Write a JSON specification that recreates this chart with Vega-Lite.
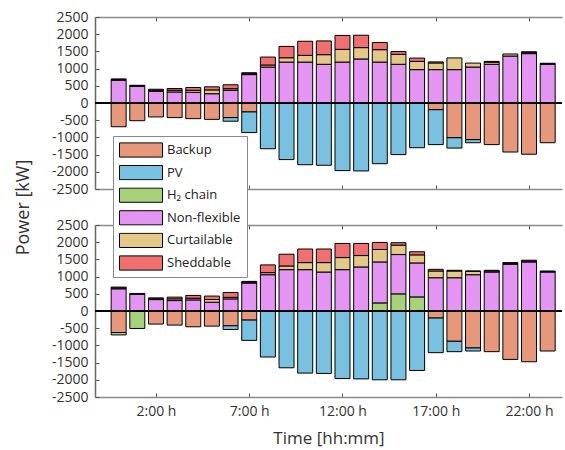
{
  "$schema": "https://vega.github.io/schema/vega-lite/v6.json",
  "background": "white",
  "padding": {"left": 14, "top": 10, "right": 0, "bottom": 2},
  "bounds": "flush",
  "spacing": 36,
  "config": {
    "font": "Open Sans",
    "view": {"stroke": null},
    "axis": {
      "grid": false,
      "labelFont": "Open Sans",
      "labelFontSize": 14,
      "labelColor": "#333333",
      "labelOverlap": false,
      "titleFont": "Open Sans",
      "titleFontSize": 17,
      "titleFontWeight": "normal",
      "titleColor": "#333333",
      "domainColor": "#8a8a8a",
      "domainWidth": 1.5,
      "tickColor": "#555555",
      "tickSize": -4,
      "tickWidth": 1
    },
    "axisY": {"labelOverlap": false, "labelFlush": false, "labelBound": false},
    "legend": {
      "labelFont": "Open Sans",
      "labelFontSize": 13,
      "labelColor": "#222222"
    }
  },
  "datasets": {
    "stackOrder": [
      {"source": "Backup", "rank": 1},
      {"source": "PV", "rank": 2},
      {"source": "H₂ chain", "rank": 3},
      {"source": "Non-flexible", "rank": 4},
      {"source": "Curtailable", "rank": 5},
      {"source": "Sheddable", "rank": 6}
    ],
    "withoutH2": [
      {"hour": 0, "source": "Backup", "kW": -690}, {"hour": 0, "source": "Non-flexible", "kW": 660}, {"hour": 0, "source": "Curtailable", "kW": 20}, {"hour": 0, "source": "Sheddable", "kW": 20},
      {"hour": 1, "source": "Backup", "kW": -515}, {"hour": 1, "source": "Non-flexible", "kW": 485}, {"hour": 1, "source": "Curtailable", "kW": 15}, {"hour": 1, "source": "Sheddable", "kW": 15},
      {"hour": 2, "source": "Backup", "kW": -405}, {"hour": 2, "source": "Non-flexible", "kW": 340}, {"hour": 2, "source": "Curtailable", "kW": 30}, {"hour": 2, "source": "Sheddable", "kW": 30},
      {"hour": 3, "source": "Backup", "kW": -425}, {"hour": 3, "source": "Non-flexible", "kW": 320}, {"hour": 3, "source": "Curtailable", "kW": 50}, {"hour": 3, "source": "Sheddable", "kW": 50},
      {"hour": 4, "source": "Backup", "kW": -455}, {"hour": 4, "source": "Non-flexible", "kW": 310}, {"hour": 4, "source": "Curtailable", "kW": 60}, {"hour": 4, "source": "Sheddable", "kW": 80},
      {"hour": 5, "source": "Backup", "kW": -475}, {"hour": 5, "source": "Non-flexible", "kW": 270}, {"hour": 5, "source": "Curtailable", "kW": 110}, {"hour": 5, "source": "Sheddable", "kW": 90},
      {"hour": 6, "source": "Backup", "kW": -425}, {"hour": 6, "source": "PV", "kW": -105}, {"hour": 6, "source": "Non-flexible", "kW": 370}, {"hour": 6, "source": "Curtailable", "kW": 45}, {"hour": 6, "source": "Sheddable", "kW": 115},
      {"hour": 7, "source": "Backup", "kW": -260}, {"hour": 7, "source": "PV", "kW": -600}, {"hour": 7, "source": "Non-flexible", "kW": 825}, {"hour": 7, "source": "Curtailable", "kW": 30}, {"hour": 7, "source": "Sheddable", "kW": 25},
      {"hour": 8, "source": "PV", "kW": -1330}, {"hour": 8, "source": "Non-flexible", "kW": 1045}, {"hour": 8, "source": "Curtailable", "kW": 60}, {"hour": 8, "source": "Sheddable", "kW": 230},
      {"hour": 9, "source": "PV", "kW": -1645}, {"hour": 9, "source": "Non-flexible", "kW": 1190}, {"hour": 9, "source": "Curtailable", "kW": 125}, {"hour": 9, "source": "Sheddable", "kW": 330},
      {"hour": 10, "source": "PV", "kW": -1795}, {"hour": 10, "source": "Non-flexible", "kW": 1190}, {"hour": 10, "source": "Curtailable", "kW": 195}, {"hour": 10, "source": "Sheddable", "kW": 410},
      {"hour": 11, "source": "PV", "kW": -1810}, {"hour": 11, "source": "Non-flexible", "kW": 1125}, {"hour": 11, "source": "Curtailable", "kW": 280}, {"hour": 11, "source": "Sheddable", "kW": 400},
      {"hour": 12, "source": "PV", "kW": -1965}, {"hour": 12, "source": "Non-flexible", "kW": 1190}, {"hour": 12, "source": "Curtailable", "kW": 370}, {"hour": 12, "source": "Sheddable", "kW": 405},
      {"hour": 13, "source": "PV", "kW": -1975}, {"hour": 13, "source": "Non-flexible", "kW": 1280}, {"hour": 13, "source": "Curtailable", "kW": 330}, {"hour": 13, "source": "Sheddable", "kW": 360},
      {"hour": 14, "source": "PV", "kW": -1765}, {"hour": 14, "source": "Non-flexible", "kW": 1190}, {"hour": 14, "source": "Curtailable", "kW": 360}, {"hour": 14, "source": "Sheddable", "kW": 210},
      {"hour": 15, "source": "PV", "kW": -1500}, {"hour": 15, "source": "Non-flexible", "kW": 1125}, {"hour": 15, "source": "Curtailable", "kW": 290}, {"hour": 15, "source": "Sheddable", "kW": 80},
      {"hour": 16, "source": "PV", "kW": -1300}, {"hour": 16, "source": "Non-flexible", "kW": 970}, {"hour": 16, "source": "Curtailable", "kW": 240}, {"hour": 16, "source": "Sheddable", "kW": 95},
      {"hour": 17, "source": "Backup", "kW": -195}, {"hour": 17, "source": "PV", "kW": -1015}, {"hour": 17, "source": "Non-flexible", "kW": 970}, {"hour": 17, "source": "Curtailable", "kW": 195}, {"hour": 17, "source": "Sheddable", "kW": 30},
      {"hour": 18, "source": "Backup", "kW": -1010}, {"hour": 18, "source": "PV", "kW": -300}, {"hour": 18, "source": "Non-flexible", "kW": 970}, {"hour": 18, "source": "Curtailable", "kW": 340},
      {"hour": 19, "source": "Backup", "kW": -1065}, {"hour": 19, "source": "PV", "kW": -90}, {"hour": 19, "source": "Non-flexible", "kW": 1045}, {"hour": 19, "source": "Curtailable", "kW": 115},
      {"hour": 20, "source": "Backup", "kW": -1210}, {"hour": 20, "source": "Non-flexible", "kW": 1125}, {"hour": 20, "source": "Curtailable", "kW": 60}, {"hour": 20, "source": "Sheddable", "kW": 25},
      {"hour": 21, "source": "Backup", "kW": -1425}, {"hour": 21, "source": "Non-flexible", "kW": 1365}, {"hour": 21, "source": "Curtailable", "kW": 60},
      {"hour": 22, "source": "Backup", "kW": -1490}, {"hour": 22, "source": "Non-flexible", "kW": 1435}, {"hour": 22, "source": "Curtailable", "kW": 30}, {"hour": 22, "source": "Sheddable", "kW": 25},
      {"hour": 23, "source": "Backup", "kW": -1155}, {"hour": 23, "source": "Non-flexible", "kW": 1125}, {"hour": 23, "source": "Curtailable", "kW": 15}, {"hour": 23, "source": "Sheddable", "kW": 15}
    ],
    "withH2": [
      {"hour": 0, "source": "Backup", "kW": -625}, {"hour": 0, "source": "H₂ chain", "kW": -70}, {"hour": 0, "source": "Non-flexible", "kW": 645}, {"hour": 0, "source": "Curtailable", "kW": 25}, {"hour": 0, "source": "Sheddable", "kW": 25},
      {"hour": 1, "source": "H₂ chain", "kW": -508}, {"hour": 1, "source": "Non-flexible", "kW": 490}, {"hour": 1, "source": "Curtailable", "kW": 10}, {"hour": 1, "source": "Sheddable", "kW": 10},
      {"hour": 2, "source": "Backup", "kW": -380}, {"hour": 2, "source": "Non-flexible", "kW": 332}, {"hour": 2, "source": "Curtailable", "kW": 25}, {"hour": 2, "source": "Sheddable", "kW": 25},
      {"hour": 3, "source": "Backup", "kW": -410}, {"hour": 3, "source": "Non-flexible", "kW": 303}, {"hour": 3, "source": "Curtailable", "kW": 50}, {"hour": 3, "source": "Sheddable", "kW": 50},
      {"hour": 4, "source": "Backup", "kW": -459}, {"hour": 4, "source": "Non-flexible", "kW": 322}, {"hour": 4, "source": "Curtailable", "kW": 50}, {"hour": 4, "source": "Sheddable", "kW": 80},
      {"hour": 5, "source": "Backup", "kW": -440}, {"hour": 5, "source": "Non-flexible", "kW": 254}, {"hour": 5, "source": "Curtailable", "kW": 80}, {"hour": 5, "source": "Sheddable", "kW": 100},
      {"hour": 6, "source": "Backup", "kW": -430}, {"hour": 6, "source": "PV", "kW": -107}, {"hour": 6, "source": "Non-flexible", "kW": 352}, {"hour": 6, "source": "Curtailable", "kW": 45}, {"hour": 6, "source": "Sheddable", "kW": 140},
      {"hour": 7, "source": "Backup", "kW": -264}, {"hour": 7, "source": "PV", "kW": -590}, {"hour": 7, "source": "Non-flexible", "kW": 811}, {"hour": 7, "source": "Curtailable", "kW": 25}, {"hour": 7, "source": "Sheddable", "kW": 25},
      {"hour": 8, "source": "PV", "kW": -1338}, {"hour": 8, "source": "Non-flexible", "kW": 1055}, {"hour": 8, "source": "Curtailable", "kW": 60}, {"hour": 8, "source": "Sheddable", "kW": 225},
      {"hour": 9, "source": "PV", "kW": -1651}, {"hour": 9, "source": "Non-flexible", "kW": 1202}, {"hour": 9, "source": "Curtailable", "kW": 107}, {"hour": 9, "source": "Sheddable", "kW": 342},
      {"hour": 10, "source": "PV", "kW": -1805}, {"hour": 10, "source": "Non-flexible", "kW": 1202}, {"hour": 10, "source": "Curtailable", "kW": 205}, {"hour": 10, "source": "Sheddable", "kW": 395},
      {"hour": 11, "source": "PV", "kW": -1815}, {"hour": 11, "source": "Non-flexible", "kW": 1133}, {"hour": 11, "source": "Curtailable", "kW": 274}, {"hour": 11, "source": "Sheddable", "kW": 395},
      {"hour": 12, "source": "PV", "kW": -1964}, {"hour": 12, "source": "Non-flexible", "kW": 1202}, {"hour": 12, "source": "Curtailable", "kW": 351}, {"hour": 12, "source": "Sheddable", "kW": 411},
      {"hour": 13, "source": "PV", "kW": -1974}, {"hour": 13, "source": "Non-flexible", "kW": 1280}, {"hour": 13, "source": "Curtailable", "kW": 332}, {"hour": 13, "source": "Sheddable", "kW": 352},
      {"hour": 14, "source": "PV", "kW": -2000}, {"hour": 14, "source": "H₂ chain", "kW": 235}, {"hour": 14, "source": "Non-flexible", "kW": 1191}, {"hour": 14, "source": "Curtailable", "kW": 362}, {"hour": 14, "source": "Sheddable", "kW": 205},
      {"hour": 15, "source": "PV", "kW": -2000}, {"hour": 15, "source": "H₂ chain", "kW": 498}, {"hour": 15, "source": "Non-flexible", "kW": 1143}, {"hour": 15, "source": "Curtailable", "kW": 274}, {"hour": 15, "source": "Sheddable", "kW": 70},
      {"hour": 16, "source": "PV", "kW": -1729}, {"hour": 16, "source": "H₂ chain", "kW": 410}, {"hour": 16, "source": "Non-flexible", "kW": 987}, {"hour": 16, "source": "Curtailable", "kW": 235}, {"hour": 16, "source": "Sheddable", "kW": 90},
      {"hour": 17, "source": "Backup", "kW": -205}, {"hour": 17, "source": "PV", "kW": -1006}, {"hour": 17, "source": "Non-flexible", "kW": 967}, {"hour": 17, "source": "Curtailable", "kW": 196}, {"hour": 17, "source": "Sheddable", "kW": 48},
      {"hour": 18, "source": "Backup", "kW": -880}, {"hour": 18, "source": "PV", "kW": -302}, {"hour": 18, "source": "Non-flexible", "kW": 967}, {"hour": 18, "source": "Curtailable", "kW": 196}, {"hour": 18, "source": "Sheddable", "kW": 20},
      {"hour": 19, "source": "Backup", "kW": -1075}, {"hour": 19, "source": "PV", "kW": -88}, {"hour": 19, "source": "Non-flexible", "kW": 1055}, {"hour": 19, "source": "Curtailable", "kW": 98}, {"hour": 19, "source": "Sheddable", "kW": 10},
      {"hour": 20, "source": "Backup", "kW": -1182}, {"hour": 20, "source": "Non-flexible", "kW": 1133}, {"hour": 20, "source": "Curtailable", "kW": 30}, {"hour": 20, "source": "Sheddable", "kW": 20},
      {"hour": 21, "source": "Backup", "kW": -1407}, {"hour": 21, "source": "Non-flexible", "kW": 1358}, {"hour": 21, "source": "Curtailable", "kW": 25}, {"hour": 21, "source": "Sheddable", "kW": 25},
      {"hour": 22, "source": "Backup", "kW": -1475}, {"hour": 22, "source": "Non-flexible", "kW": 1426}, {"hour": 22, "source": "Curtailable", "kW": 25}, {"hour": 22, "source": "Sheddable", "kW": 25},
      {"hour": 23, "source": "Backup", "kW": -1163}, {"hour": 23, "source": "Non-flexible", "kW": 1133}, {"hour": 23, "source": "Curtailable", "kW": 15}, {"hour": 23, "source": "Sheddable", "kW": 15}
    ]
  },
  "resolve": {"scale": {"color": "shared"}, "legend": {"color": "shared"}},
  "vconcat": [
    {
      "width": 467,
      "height": 172,
      "data": {"name": "withoutH2"},
      "transform": [
        {"lookup": "source", "from": {"data": {"name": "stackOrder"}, "key": "source", "fields": ["rank"]}}
      ],
      "resolve": {"axis": {"x": "independent"}},
      "layer": [
        {
          "mark": {"type": "bar", "size": 15, "stroke": "black", "strokeWidth": 1},
          "encoding": {
            "x": {"field": "hour", "type": "quantitative",
                  "scale": {"domain": [-1, 23.5], "nice": false, "zero": false},
                  "axis": {"orient": "bottom", "values": [2, 7, 12, 17, 22], "labels": false, "title": null}},
            "y": {"field": "kW", "type": "quantitative", "stack": "zero",
                  "scale": {"domain": [-2500, 2500], "nice": false},
                  "axis": {"values": [-2500, -2000, -1500, -1000, -500, 0, 500, 1000, 1500, 2000, 2500],
                           "labelExpr": "datum.value", "labelOverlap": false, "labelFlush": false,
                           "labelPadding": 11, "domainColor": "#666666",
                           "title": "Power [kW]", "titleY": 190, "titleX": -63, "titleFontSize": 18}},
            "order": {"field": "rank", "type": "quantitative"},
            "color": {"field": "source", "type": "nominal",
                      "scale": {"domain": ["Backup", "PV", "H₂ chain", "Non-flexible", "Curtailable", "Sheddable"],
                                "range": ["#e8987a", "#78c1e0", "#a8d27a", "#e494f2", "#e4c887", "#f07070"]},
                      "legend": {"title": null, "orient": "none", "legendX": 18, "legendY": 119,
                                 "fillColor": "white", "strokeColor": "#8a8a8a", "padding": 6,
                                 "symbolType": "M-1,-0.33H1V0.33H-1Z", "symbolSize": 1849,
                                 "symbolStrokeColor": "black", "symbolStrokeWidth": 1, "symbolOpacity": 1,
                                 "clipHeight": 16, "rowPadding": 6.6, "labelOffset": 4}}
          }
        },
        {
          "mark": {"type": "point", "opacity": 0},
          "encoding": {
            "x": {"field": "hour", "type": "quantitative",
                  "axis": {"orient": "top", "values": [2, 7, 12, 17, 22], "labels": false, "title": null}}
          }
        },
        {
          "mark": {"type": "rule", "color": "black", "strokeWidth": 1},
          "encoding": {
            "y": {"datum": 0,
                  "axis": {"values": [-2500, -2000, -1500, -1000, -500, 0, 500, 1000, 1500, 2000, 2500],
                           "labelExpr": "datum.value", "labelOverlap": false, "labelFlush": false,
                           "labelPadding": 11, "domainColor": "#666666",
                           "title": "Power [kW]", "titleY": 190, "titleX": -63, "titleFontSize": 18}}
          }
        }
      ]
    },
    {
      "width": 467,
      "height": 172,
      "data": {"name": "withH2"},
      "transform": [
        {"lookup": "source", "from": {"data": {"name": "stackOrder"}, "key": "source", "fields": ["rank"]}}
      ],
      "resolve": {"axis": {"x": "independent"}},
      "layer": [
        {
          "mark": {"type": "bar", "size": 15, "stroke": "black", "strokeWidth": 1},
          "encoding": {
            "x": {"field": "hour", "type": "quantitative",
                  "scale": {"domain": [-1, 23.5], "nice": false, "zero": false},
                  "axis": {"orient": "bottom", "values": [2, 7, 12, 17, 22], "labelExpr": "datum.value + ':00 h'",
                           "labelPadding": 11, "title": "Time [hh:mm]", "titlePadding": 12}},
            "y": {"field": "kW", "type": "quantitative", "stack": "zero",
                  "scale": {"domain": [-2500, 2500], "nice": false},
                  "axis": {"values": [-2500, -2000, -1500, -1000, -500, 0, 500, 1000, 1500, 2000, 2500],
                           "labelExpr": "datum.value", "labelOverlap": false, "labelFlush": false,
                           "labelPadding": 11, "domainColor": "#666666", "title": null}},
            "order": {"field": "rank", "type": "quantitative"},
            "color": {"field": "source", "type": "nominal"}
          }
        },
        {
          "mark": {"type": "point", "opacity": 0},
          "encoding": {
            "x": {"field": "hour", "type": "quantitative",
                  "axis": {"orient": "top", "values": [2, 7, 12, 17, 22], "labels": false, "title": null}}
          }
        },
        {
          "mark": {"type": "rule", "color": "black", "strokeWidth": 1},
          "encoding": {
            "y": {"datum": 0,
                  "axis": {"values": [-2500, -2000, -1500, -1000, -500, 0, 500, 1000, 1500, 2000, 2500],
                           "labelExpr": "datum.value", "labelOverlap": false, "labelFlush": false,
                           "labelPadding": 11, "domainColor": "#666666", "title": null}}
          }
        }
      ]
    }
  ]
}
